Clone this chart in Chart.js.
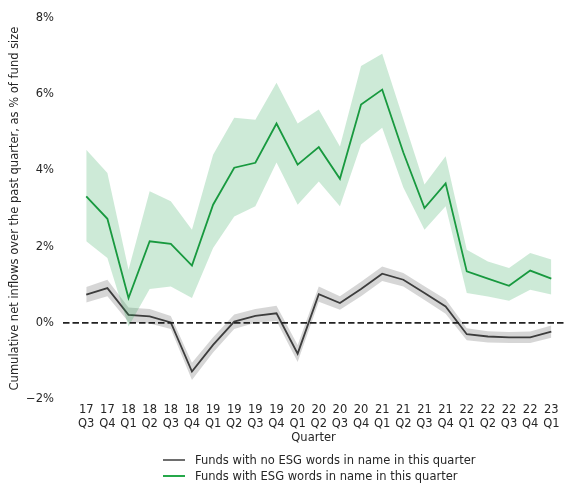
<!DOCTYPE html>
<html>
<head>
<meta charset="utf-8">
<script src="https://cdn.jsdelivr.net/npm/chart.js@4.4.1/dist/chart.umd.min.js"></script>
<style>
  html, body { margin: 0; padding: 0; background: #fff; }
  #wrap { position: relative; width: 564px; height: 484px; }
  #legend { position: absolute; left: 163px; top: 452px; font-family: "DejaVu Sans", sans-serif; font-size: 11.5px; color: #262626; line-height: 16px; }
  .row { display: flex; align-items: center; height: 16px; }
  .sw { width: 22px; height: 0; border-top: 2px solid; margin-right: 10px; }
</style>
</head>
<body>
<div id="wrap">
  <canvas id="c" width="564" height="484"></canvas>
  <div id="legend"></div>
</div>
<script>
const quarterYears = ['17','17','18','18','18','18','19','19','19','19','20','20','20','20','21','21','21','21','22','22','22','22','23'];
const quarterNames = ['Q3','Q4','Q1','Q2','Q3','Q4','Q1','Q2','Q3','Q4','Q1','Q2','Q3','Q4','Q1','Q2','Q3','Q4','Q1','Q2','Q3','Q4','Q1'];

const greyMid = [0.74, 0.91, 0.21, 0.17, 0.01, -1.28, -0.58, 0.03, 0.18, 0.25, -0.81, 0.75, 0.52, 0.89, 1.29, 1.13, 0.78, 0.43, -0.30, -0.36, -0.38, -0.38, -0.23];
const greyUp  = [0.94, 1.13, 0.40, 0.36, 0.18, -1.05, -0.38, 0.22, 0.36, 0.45, -0.58, 0.95, 0.70, 1.08, 1.48, 1.31, 0.96, 0.62, -0.14, -0.22, -0.24, -0.23, -0.07];
const greyLo  = [0.53, 0.70, 0.02, -0.02, -0.16, -1.50, -0.78, -0.16, 0.00, 0.05, -1.03, 0.55, 0.34, 0.70, 1.10, 0.95, 0.60, 0.24, -0.46, -0.52, -0.53, -0.53, -0.39];

const greenMid = [3.32, 2.73, 0.65, 2.14, 2.07, 1.50, 3.10, 4.07, 4.20, 5.23, 4.15, 4.61, 3.78, 5.73, 6.12, 4.47, 3.01, 3.66, 1.35, 1.16, 0.97, 1.37, 1.16];
const greenUp  = [4.54, 3.93, 1.39, 3.45, 3.19, 2.44, 4.41, 5.38, 5.33, 6.30, 5.23, 5.60, 4.63, 6.74, 7.06, 5.35, 3.63, 4.37, 1.92, 1.61, 1.44, 1.83, 1.66];
const greenLo  = [2.14, 1.70, -0.10, 0.89, 0.95, 0.65, 1.96, 2.79, 3.06, 4.21, 3.10, 3.71, 3.06, 4.68, 5.12, 3.55, 2.44, 3.06, 0.78, 0.69, 0.58, 0.87, 0.74];

const yTicks = [-2, 0, 2, 4, 6, 8];
const seriesNames = ['Funds with no ESG words in name in this quarter', 'Funds with ESG words in name in this quarter'];
const yTitle = 'Cumulative net inflows over the past quarter, as % of fund size';
const xTitle = 'Quarter';

const GREY = '#3d3d3d', GREY_FILL = 'rgba(0,0,0,0.16)';
const GREEN = '#18993f', GREEN_FILL = 'rgba(40,165,80,0.23)';
const FONT = '"DejaVu Sans", sans-serif';
const FS = 11.5;
const TXT = '#262626';

const pts = arr => arr.map((v, i) => ({x: i, y: v}));

const zeroLine = {
  id: 'zeroLine',
  afterDatasetsDraw(chart) {
    const {ctx, chartArea, scales} = chart;
    const y = scales.y.getPixelForValue(0);
    ctx.save();
    ctx.strokeStyle = '#222';
    ctx.lineWidth = 1.8;
    ctx.setLineDash([6.5, 3]);
    ctx.beginPath();
    ctx.moveTo(chartArea.left, y);
    ctx.lineTo(chartArea.right, y);
    ctx.stroke();
    ctx.restore();
  }
};

const common = {pointRadius: 0, borderJoinStyle: 'miter', tension: 0};

new Chart(document.getElementById('c'), {
  type: 'line',
  data: {
    datasets: [
      {...common, label: 'gu', data: pts(greyUp), borderWidth: 0, borderColor: 'transparent', backgroundColor: GREY_FILL, fill: '+1', order: 6},
      {...common, label: 'gl', data: pts(greyLo), borderWidth: 0, borderColor: 'transparent', fill: false, order: 6},
      {...common, label: seriesNames[0], data: pts(greyMid), borderWidth: 1.8, borderColor: GREY, fill: false, order: 5},
      {...common, label: 'eu', data: pts(greenUp), borderWidth: 0, borderColor: 'transparent', backgroundColor: GREEN_FILL, fill: '+1', order: 4},
      {...common, label: 'el', data: pts(greenLo), borderWidth: 0, borderColor: 'transparent', fill: false, order: 4},
      {...common, label: seriesNames[1], data: pts(greenMid), borderWidth: 1.8, borderColor: GREEN, fill: false, order: 3}
    ]
  },
  options: {
    responsive: false,
    animation: false,
    devicePixelRatio: 1,
    layout: {padding: {top: 18, left: 0, right: 0, bottom: 39}},
    plugins: {legend: {display: false}, tooltip: {enabled: false}},
    scales: {
      x: {
        type: 'linear',
        min: -1.1,
        max: 22.6,
        grid: {display: false, drawTicks: false},
        border: {display: false},
        afterBuildTicks: s => { s.ticks = quarterYears.map((_, i) => ({value: i})); },
        afterFit: s => { s.height = 46; },
        ticks: {
          autoSkip: false, maxRotation: 0, padding: 4,
          color: TXT, font: {family: FONT, size: FS, lineHeight: 1.2},
          callback: v => [quarterYears[v], quarterNames[v]]
        },
        title: {display: true, text: xTitle, color: TXT, font: {family: FONT, size: FS, lineHeight: 1.2}, padding: {top: 0, bottom: 0}}
      },
      y: {
        min: -2,
        max: 8,
        grid: {display: false, drawTicks: false},
        border: {display: false},
        afterBuildTicks: s => { s.ticks = yTicks.map(v => ({value: v})); },
        afterFit: s => { s.width = 63; },
        ticks: {padding: 9, color: TXT, font: {family: FONT, size: FS}, callback: v => (v < 0 ? '\u2212' + Math.abs(v) : v) + '%'},
        title: {display: true, text: yTitle, color: TXT, font: {family: FONT, size: FS}, padding: {top: 8, bottom: 0}}
      }
    }
  },
  plugins: [zeroLine]
});

const legend = document.getElementById('legend');
[[seriesNames[0], '#6e6e6e'], [seriesNames[1], '#25a84a']].forEach(([name, col]) => {
  const row = document.createElement('div');
  row.className = 'row';
  const sw = document.createElement('span');
  sw.className = 'sw';
  sw.style.borderTopColor = col;
  const t = document.createElement('span');
  t.textContent = name;
  row.appendChild(sw); row.appendChild(t);
  legend.appendChild(row);
});
</script>
</body>
</html>
